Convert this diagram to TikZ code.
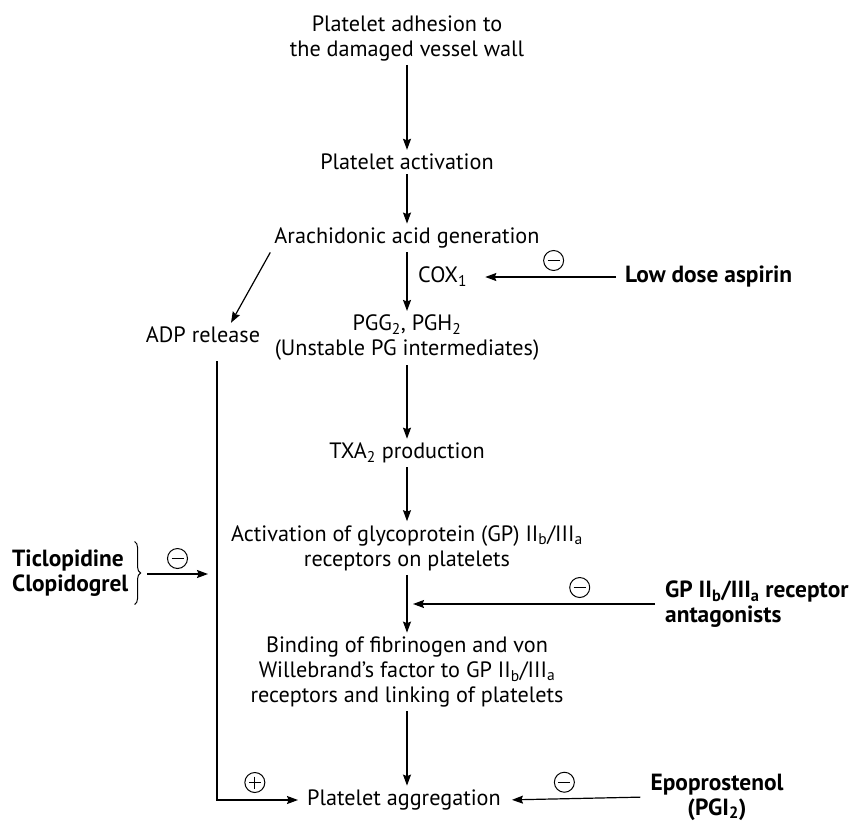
\documentclass[tikz,border=0pt]{standalone}
\usepackage{fontspec}
\setmainfont{PT Sans}
\usetikzlibrary{
	arrows.meta,
	calc,
	positioning,
	decorations.pathreplacing
}

\begin{document}
\begin{tikzpicture}[x=1pt, y=-1pt,
	box/.style={align=center, inner sep=4pt, font=\fontsize{22.2}{25}\selectfont},
	drug/.style={box, font=\fontsize{23.4}{25}\selectfont\bfseries},
	flow/.style={-{Stealth[length=11pt, width=8pt, inset=1.5pt]}, line width=1.2pt},
	signline/.style={-, shorten <=0pt, shorten >=0pt, line width=1pt},
	inhib/.style={circle, draw, line width=1pt, minimum size=20pt, inner sep=0pt,
		path picture={\draw[signline] ([xshift=4pt]path picture bounding box.west) -- ([xshift=-4pt]path picture bounding box.east);}},
	promo/.style={circle, draw, line width=1pt, minimum size=20pt, inner sep=0pt,
		path picture={\draw[signline] ([xshift=4pt]path picture bounding box.west) -- ([xshift=-4pt]path picture bounding box.east)
			([yshift=-4pt]path picture bounding box.north) -- ([yshift=4pt]path picture bounding box.south);}}
]
	\useasboundingbox (0,0) rectangle (853,822);
	% main pathway
	\node[box] (adh) at (407,38) {Platelet adhesion to\\the damaged vessel wall};
	\node[box] (act) at (407,162) {Platelet activation};
	\node[box] (arach) at (407,238) {Arachidonic acid generation};
	\node[box, anchor=west] (cox) at (414,277) {COX\textsubscript{1}};
	\node[box] (pgg) at (407,338) {PGG\textsubscript{2}, PGH\textsubscript{2}\\(Unstable PG intermediates)};
	\node[box] (adp) at (203,335) {ADP release};
	\node[box] (txa) at (407,453) {TXA\textsubscript{2} production};
	\node[box] (gpact) at (407,548) {Activation of glycoprotein (GP) II\textsubscript{b}/III\textsubscript{a}\\receptors on platelets};
	\node[box] (bind) at (407,672) {Binding of fibrinogen and von\\Willebrand’s factor to GP II\textsubscript{b}/III\textsubscript{a}\\receptors and linking of platelets};
	\node[box, anchor=west] (agg) at (303,800) {Platelet aggregation};
	% drugs
	\node[drug, anchor=west] (aspirin) at (621,277) {Low dose aspirin};
	\node[drug, anchor=west, align=left] (gpant) at (661,604) {GP II\textsubscript{b}/III\textsubscript{a} receptor\\antagonists};
	\node[drug] (epo) at (717,797) {Epoprostenol\\(PGI\textsubscript{2})};
	\node[drug, anchor=west, align=left] (ticlo) at (8,573) {Ticlopidine\\Clopidogrel};

	\foreach \a/\b in {adh/act, act/arach, arach/pgg, pgg/txa, txa/gpact, gpact/bind}
		\draw[flow] (\a) -- (\b);
	\draw[flow] (bind.south) -- (bind.south |- agg.north);
	\draw[flow] (arach.south west) -- ([xshift=28pt]adp.north);

	% ADP route
	\draw[flow, shorten <=14pt, shorten >=5pt] ([xshift=14pt]adp.south) |- (agg.west)
		node[promo, pos=0.72, above=7pt] (plus) {};
	\draw[line width=1pt, decorate, decoration={brace, amplitude=6pt}]
		([xshift=2pt, yshift=4pt]ticlo.north east) -- ([xshift=2pt, yshift=-4pt]ticlo.south east);
	\coordinate (tstart) at (147,574);
	\coordinate (tend) at (208,574);
	\draw[flow] (tstart) -- (tend) node[inhib, midway, above=5pt] (m1) {};

	% inhibitors
	\draw[flow, shorten <=5pt, shorten >=14pt] (aspirin.west) -- (cox.east)
		node[inhib, pos=0.45, above=6pt] (m0) {};
	\draw[flow, shorten <=6pt, shorten >=6pt] (gpant.west) -- (gpant.west -| bind.north)
		node[inhib, pos=0.32, above=6pt] (m2) {};
	\draw[flow, shorten <=6pt, shorten >=7pt] (epo.west) -- (agg.east)
		node[inhib, pos=0.58, above=6pt] (m3) {};
\end{tikzpicture}
\end{document}
